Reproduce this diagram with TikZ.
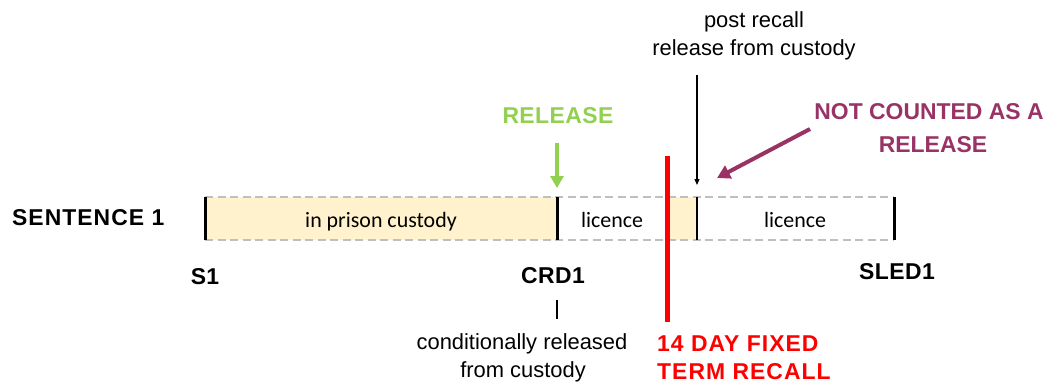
\documentclass[tikz,border=0pt]{standalone}
\usepackage{fontspec}
\setmainfont{Liberation Sans}
\newfontfamily\barfont{Carlito}
\newfontfamily\widebold[LetterSpace=4.5]{Liberation Sans Bold}
\newfontfamily\midbold[LetterSpace=2]{Liberation Sans Bold}
\usetikzlibrary{arrows.meta}
\definecolor{shadefill}{HTML}{FFF2CC}
\definecolor{dashgray}{HTML}{BFBFBF}
\definecolor{relgreen}{HTML}{92D050}
\definecolor{plum}{HTML}{993366}
\begin{document}
\begin{tikzpicture}[x=1bp,y=-1bp,
  lbl/.style={inner sep=0pt, anchor=base, font=\fontsize{22}{26}\selectfont},
  blbl/.style={inner sep=0pt, anchor=base, font=\fontsize{23}{28}\selectfont\bfseries},
  mlbl/.style={inner sep=0pt, anchor=base, font=\midbold\fontsize{23}{28}\selectfont},
  wlbl/.style={inner sep=0pt, anchor=base, font=\widebold\fontsize{23}{28}\selectfont},
  bartext/.style={inner sep=0pt, anchor=base, font=\barfont\fontsize{22}{26}\selectfont},
  edgeline/.style={dashgray, line width=1.5bp, dash pattern=on 8bp off 4.5bp},
  tickline/.style={black, line width=3bp},
]
\useasboundingbox (0,0) rectangle (1064,385);
% bar coordinates
\coordinate (s1t) at (205,197);   \coordinate (s1b) at (205,240);
\coordinate (crdt) at (557,197);  \coordinate (crdb) at (557,240);
\coordinate (rct) at (667,197);   \coordinate (rcb) at (667,240);
\coordinate (rpt) at (697,197);   \coordinate (rpb) at (697,240);
\coordinate (sledt) at (894,197); \coordinate (sledb) at (894,240);
% shading
\fill[shadefill] (s1t) rectangle (crdb);
\fill[shadefill] (rct) rectangle (rpb);
% dashed borders
\draw[edgeline] (s1t) -- (sledt);
\draw[edgeline] (s1b) -- (sledb);
% ticks
\draw[tickline] (s1t) -- (s1b);
\draw[tickline] (crdt) -- (crdb);
\draw[black, line width=2.5bp] (rpt) -- (rpb);
\draw[tickline] (sledt) -- (sledb);
% bar texts
\node[bartext] (cust) at (381,227) {in prison custody};
\node[bartext] (lic1) at (612,227) {licence};
\node[bartext] (lic2) at (795,227) {licence};
% red recall line
\coordinate (redtop) at (667,156);
\coordinate (redbot) at (667,322);
\draw[red, line width=5bp] (redtop) -- (redbot);
% labels
\node[wlbl, anchor=base west] (sent) at (12,225) {SENTENCE 1};
\node[mlbl] (s1) at (205,284) {S1};
\node[mlbl] (crd) at (553,283) {CRD1};
\node[mlbl] (sled) at (897,279) {SLED1};
\node[lbl] (cond1) at (522,349) {conditionally released};
\node[lbl] (cond2) at (523,377) {from custody};
\node[wlbl, red, anchor=base west] (fix1) at (657,351) {14 DAY FIXED};
\node[wlbl, red, anchor=base west] (fix2) at (657,379) {TERM RECALL};
\node[lbl] (post1) at (754,27) {post recall};
\node[lbl] (post2) at (754,55) {release from custody};
\node[mlbl, relgreen] (relg) at (558,123) {RELEASE};
\node[blbl, plum] (nc1) at (929,119) {NOT COUNTED AS A};
\node[blbl, plum] (nc2) at (933,152) {RELEASE};
% connectors
\coordinate (gtip) at (557,188);
\coordinate (gstart) at (557,143);
\draw[relgreen, line width=4bp, -{Triangle[width=13bp,length=12bp]}] (gstart) -- (gtip);
\coordinate (ptip) at (697,185);
\coordinate (pstart) at (697,75);
\draw[black, line width=1.2bp, -{Triangle[width=5bp,length=6bp]}] (pstart) -- (ptip);
\coordinate (nstart) at (810,129);
\coordinate (ntip) at (717,178);
\draw[plum, line width=4bp, -{Triangle[width=14bp,length=13bp]}] (nstart) -- (ntip);
\coordinate (ctop) at (557,300);
\coordinate (cbot) at (557,319);
\draw[black, line width=1.2bp] (ctop) -- (cbot);
\end{tikzpicture}
\end{document}
